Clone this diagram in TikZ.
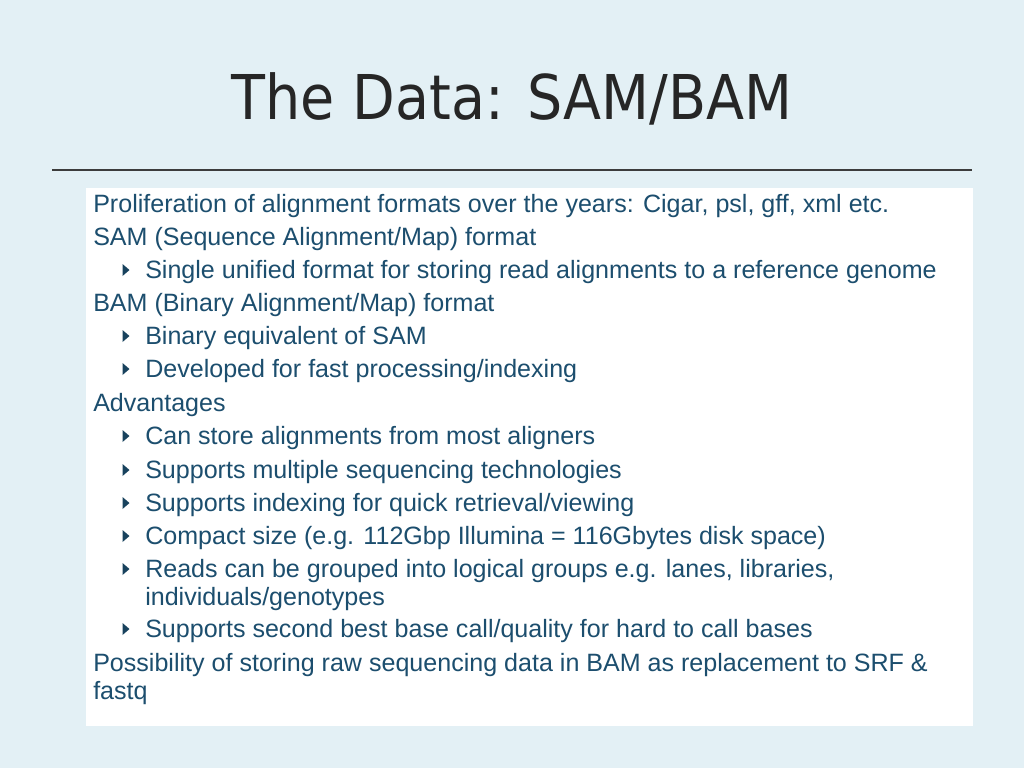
\documentclass[tikz,border=0pt]{standalone}
\usepackage{fontspec}
\setmainfont{Liberation Sans}
\newfontfamily\titlefont{DejaVu Sans Condensed}
\definecolor{bgblue}{RGB}{227,240,245}
\definecolor{txtblue}{RGB}{28,78,110}
\definecolor{titlegray}{RGB}{38,38,38}
\begin{document}
\begin{tikzpicture}[x=0.75pt,y=-0.75pt,
  lvlone/.style={anchor=base west,inner sep=0pt,text=txtblue,font=\fontsize{18.8}{22}\selectfont},
  lvltwo/.style={lvlone},
  tri/.style={fill=txtblue!85!black,draw=none}]
\useasboundingbox (0,0) rectangle (1024,768);
\fill[bgblue] (0,0) rectangle (1024,768);
\node[anchor=base,inner sep=0pt,text=titlegray,font=\titlefont\fontsize{46.3}{54}\selectfont] (title) at (512,119) {The Data: SAM/BAM};
\coordinate (rl) at (52,170);
\coordinate (rr) at (972,170);
\draw[line width=0.9pt,color=titlegray!90] (rl) -- (rr);
\fill[white] (86,188) rectangle (973,726);
% level one
\node[lvlone] (l1) at (93,212) {Proliferation of alignment formats over the years: Cigar, psl, gff, xml etc.};
\node[lvlone] (l2) at (93,245) {SAM (Sequence Alignment/Map) format};
\node[lvlone] (l4) at (93,311) {BAM (Binary Alignment/Map) format};
\node[lvlone] (l7) at (93,411) {Advantages};
\node[lvlone] (l15) at (93,671) {Possibility of storing raw sequencing data in BAM as replacement to SRF \&};
\node[lvlone] (l16) at (93,699) {fastq};
% level two
\foreach \yy/\nm/\tx in {
  278/l3/{Single unified format for storing read alignments to a reference genome},
  344/l5/{Binary equivalent of SAM},
  377/l6/{Developed for fast processing/indexing},
  444/l8/{Can store alignments from most aligners},
  478/l9/{Supports multiple sequencing technologies},
  511/l10/{Supports indexing for quick retrieval/viewing},
  544/l11/{Compact size (e.g. 112Gbp Illumina = 116Gbytes disk space)},
  577/l12/{Reads can be grouped into logical groups e.g. lanes, libraries,},
  637/l14/{Supports second best base call/quality for hard to call bases}}
{
  \node[lvltwo] (\nm) at (145,\yy) {\tx};
  \fill[tri] (122.5,\yy-14) -- (129.5,\yy-8) -- (122.5,\yy-2) -- cycle;
}
\node[lvltwo] (l13) at (145,605) {individuals/genotypes};
\end{tikzpicture}
\end{document}
